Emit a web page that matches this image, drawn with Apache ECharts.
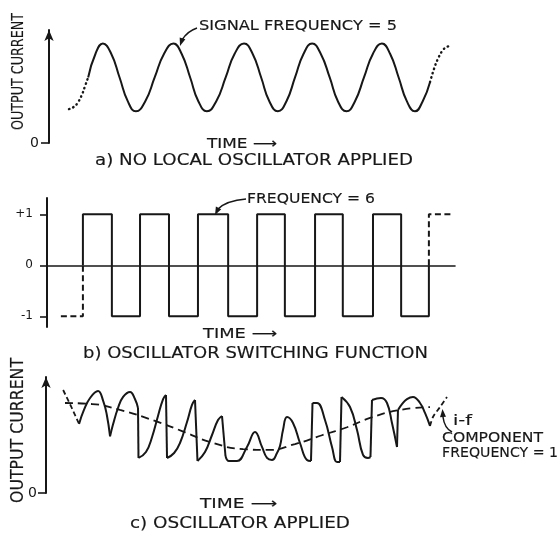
<!DOCTYPE html>
<html>
<head>
<meta charset="utf-8">
<script src="https://cdn.jsdelivr.net/npm/echarts@6/dist/echarts.min.js"></script>
<style>
html,body{margin:0;padding:0;background:#fff}
#chart{width:559px;height:534px}
</style>
</head>
<body>
<div id="chart"></div>
<script>
// ---------- a) output current with no local oscillator: [time, current] ----------
const signalLead  = [[4.9,3.0],[6.1,3.2],[7.1,3.6],[8.1,4.3],[8.8,5.0],[9.6,5.8]];
const signalTrace = [[9.6,5.8],[11.4,7.9],[13.2,8.8],[15.25,7.9],[17.3,5.8],[19.3,3.7],[21.3,2.8],
  [23.6,3.7],[25.9,5.8],[28.2,7.9],[30.5,8.8],[32.5,7.9],[34.6,5.8],[36.6,3.7],[38.7,2.8],
  [41.0,3.7],[43.3,5.8],[45.5,7.9],[47.8,8.8],[49.9,7.9],[52.0,5.8],[54.0,3.7],[56.1,2.8],
  [58.2,3.7],[60.3,5.8],[62.4,7.9],[64.5,8.8],[66.6,7.9],[68.8,5.8],[70.8,3.7],[72.9,2.8],
  [75.0,3.7],[77.2,5.8],[79.4,7.9],[81.6,8.8],[83.6,7.9],[85.7,5.8],[87.7,3.7],[89.7,2.8],
  [91.6,3.7],[93.4,5.4]];
const signalTail  = [[93.4,5.4],[94.4,6.6],[95.4,7.5],[96.5,8.2],[97.5,8.5],[98.5,8.6]];

// ---------- b) oscillator switching function ----------
const switchEdges = [8.8,15.9,22.8,29.9,37.0,44.4,51.5,58.3,65.7,72.5,79.9,86.8,93.6];
const switchLeadStart = 3.4;
const switchTailEnd = 99.3;
const switchTicks = [-1, 0, 1];

// ---------- c) output current with oscillator applied ----------
const outputLead = [[4.2,8.88],[6.1,7.50],[8.1,5.95]];
const outputArcs = [
  [[8.1,5.95],[9.3,7.16],[10.8,8.19],[12.75,8.79],[14.05,7.90],[14.9,6.75],[15.7,4.89]],
  [[15.7,4.89],[16.42,5.90],[17.65,7.33],[18.9,8.28],[20.6,8.71],[21.8,8.10],[22.55,7.33]],
  [[22.67,3.02],[24.5,3.53],[26.0,4.83],[27.45,6.64],[28.7,8.10],[29.41,8.45]],
  [[29.66,3.02],[31.4,3.45],[32.84,4.31],[34.56,6.12],[35.78,7.59],[36.52,8.02]],
  [[37.13,2.76],[38.97,3.53],[40.69,5.00],[42.16,6.29],[43.14,6.64]],
  [[43.99,3.19],[44.85,2.76],[46.81,2.76],[49.26,3.97],[51.23,5.26],[52.94,3.97],[54.17,3.02],
   [55.39,2.84],[56.62,3.45],[57.35,4.05],[58.09,5.43],[59.07,6.55],[60.54,6.03],[62.25,4.31],
   [63.97,2.84],[64.95,2.76]],
  [[65.32,7.76],[66.42,7.76],[68.38,6.29],[70.10,3.97],[71.32,2.67],[72.06,2.67]],
  [[72.43,8.28],[74.51,7.41],[76.23,5.43],[77.70,3.28],[78.92,3.02],[79.53,3.10]],
  [[79.90,8.02],[82.11,8.19],[83.58,7.76],[84.80,6.03],[86.03,3.97]],
  [[86.27,7.16],[87.25,7.67],[88.48,8.10],[89.95,8.28],[91.67,7.76],[92.89,6.90],[94.12,5.78]]
];
const outputTail = [[94.12,5.78],[94.85,6.55],[96.57,7.41],[98.28,8.28]];
// i-f component (beat frequency 1)
const ifComponent = [[4.66,7.76],[11.27,7.67],[18.14,7.16],[26.72,6.21],[33.33,5.34],[40.93,4.31],
  [48.28,3.79],[54.41,3.71],[61.03,4.22],[67.65,4.98],[73.77,5.67],[79.41,6.47],[86.76,7.16],[94.12,7.41]];

const INK = '#171717';
const FONT = '"DejaVu Sans"';

const chart = echarts.init(document.getElementById('chart'), null, {renderer: 'canvas'});

function line(idx, data, style, smooth) {
  return {
    type: 'line', xAxisIndex: idx, yAxisIndex: idx, data: data,
    symbol: 'none', showSymbol: false, silent: true, animation: false,
    smooth: smooth === undefined ? 0.5 : smooth,
    lineStyle: Object.assign({color: INK, width: 2}, style)
  };
}
const DOTTED = {type: [0.5, 4], cap: 'round', width: 2.4};
const DASHED = {type: [6, 3.5], width: 2};

// switching waveform from the edge times
const sw = [[switchEdges[0], 0], [switchEdges[0], 1]];
let level = 1;
for (let i = 1; i < switchEdges.length - 1; i++) {
  sw.push([switchEdges[i], level]);
  level = -level;
  sw.push([switchEdges[i], level]);
}
const lastEdge = switchEdges[switchEdges.length - 1];
sw.push([lastEdge, level], [lastEdge, 0]);
const swLead = [[switchLeadStart, -1], [switchEdges[0], -1], [switchEdges[0], 0]];
const swTail = [[lastEdge, 0], [lastEdge, 1], [switchTailEnd, 1]];

const series = [
  line(0, signalLead, DOTTED),
  line(0, signalTrace, {}),
  line(0, signalTail, DOTTED),
  line(1, swLead, DASHED, false),
  line(1, sw, {}, false),
  line(1, swTail, DASHED, false),
  line(2, outputLead, {type: [5, 3], width: 1.8}, false),
  line(2, outputTail, {type: [5, 3], width: 1.8}, 0.3),
  line(2, ifComponent, {type: [8, 5], width: 1.8}, 0.5)
];
outputArcs.forEach(function (arc, i) {
  series.push(line(2, arc, {}, 0.45));
  const next = outputArcs[i + 1];
  if (next) {
    const a = arc[arc.length - 1], b = next[0];
    if (a[0] !== b[0] || a[1] !== b[1]) series.push(line(2, [a, b], {}, false));
  }
});

function valueAxis(idx, show) {
  return {type: 'value', gridIndex: idx, min: 0, max: 100, show: show,
    axisLine: {show: show, lineStyle: {color: INK, width: 1.6}},
    axisTick: {show: false}, axisLabel: {show: false}, splitLine: {show: false}};
}
function currentAxis(idx, margin) {
  return {type: 'value', gridIndex: idx, min: 0, max: 10,
    axisLine: {show: true, symbol: ['none', 'arrow'], symbolSize: [7, 11],
      lineStyle: {color: INK, width: 2}},
    axisTick: {show: true, length: 8, customValues: [0], lineStyle: {color: INK, width: 1.6}},
    axisLabel: {show: true, customValues: [0], margin: margin, color: INK,
      fontFamily: FONT, fontSize: 14},
    splitLine: {show: false}};
}

// text helpers: stretch each caption to its lettering width
const measure = document.createElement('canvas').getContext('2d');
function caption(text, x, y, size, width, opt) {
  opt = opt || {};
  measure.font = size + 'px ' + FONT;
  const natural = measure.measureText(text).width;
  const align = opt.align || 'left';
  return {
    type: 'text', x: x, y: y, rotation: opt.rotation || 0,
    scaleX: width / natural, silent: true,
    style: {text: text, font: size + 'px ' + FONT, fill: INK, stroke: INK, lineWidth: 0.15,
      align: align, verticalAlign: 'middle', textAlign: align, textVerticalAlign: 'middle'}
  };
}
function leader(p0, c1, c2, p1, tip) {
  const dx = tip[0] - p1[0], dy = tip[1] - p1[1];
  const n = Math.hypot(dx, dy), ux = dx / n, uy = dy / n;
  const len = 8, half = 3;
  const bx = tip[0] - ux * len, by = tip[1] - uy * len;
  return [
    {type: 'bezierCurve', silent: true,
      shape: {x1: p0[0], y1: p0[1], cpx1: c1[0], cpy1: c1[1], cpx2: c2[0], cpy2: c2[1], x2: p1[0], y2: p1[1]},
      style: {stroke: INK, lineWidth: 1.5, fill: null}},
    {type: 'polygon', silent: true,
      shape: {points: [tip, [bx - uy * half, by + ux * half], [bx + uy * half, by - ux * half]]},
      style: {fill: INK}}
  ];
}

const graphics = [
  caption('OUTPUT CURRENT', 19, 71.5, 15, 117, {align: 'center', rotation: Math.PI / 2}),
  caption('OUTPUT CURRENT', 18.5, 430.5, 17, 145, {align: 'center', rotation: Math.PI / 2}),
  caption('SIGNAL FREQUENCY = 5', 199, 26.5, 14, 198),
  caption('TIME \u27F6', 207, 144, 14, 70),
  caption('a) NO LOCAL OSCILLATOR APPLIED', 95, 161, 15, 318),
  caption('FREQUENCY = 6', 247, 199, 14, 128),
  caption('TIME \u27F6', 203, 334, 14, 74),
  caption('b) OSCILLATOR SWITCHING FUNCTION', 83, 354, 15, 345),
  caption('TIME \u27F6', 200, 504, 14, 77),
  caption('c) OSCILLATOR APPLIED', 130, 524, 15, 220),
  caption('i-f', 453, 421, 14, 19),
  caption('COMPONENT', 442, 438, 14, 101),
  caption('FREQUENCY = 1', 442, 453, 14, 116)
].concat(
  leader([197, 28], [191, 30], [185, 35], [182, 40], [180, 46]),
  leader([246, 199], [234, 200], [223, 204], [218, 209], [215, 215]),
  leader([452, 432], [448, 430], [444, 425], [443, 417], [442.5, 409])
);

chart.setOption({
  animation: false,
  backgroundColor: '#ffffff',
  textStyle: {fontFamily: FONT, color: INK},
  grid: [
    {left: 49, top: 30, width: 408, height: 113, outerBoundsMode: 'none'},
    {left: 47, top: 198, width: 408, height: 129, outerBoundsMode: 'none'},
    {left: 46, top: 377, width: 408, height: 116, outerBoundsMode: 'none'}
  ],
  xAxis: [valueAxis(0, false), valueAxis(1, true), valueAxis(2, false)],
  yAxis: [
    currentAxis(0, 10),
    {type: 'value', gridIndex: 1, min: -1.21, max: 1.32,
      axisLine: {show: true, onZero: false, lineStyle: {color: INK, width: 2}},
      axisTick: {show: true, length: 7, customValues: switchTicks, lineStyle: {color: INK, width: 1.6}},
      axisLabel: {show: true, customValues: switchTicks, margin: 14, color: INK,
        fontFamily: FONT, fontSize: 12,
        formatter: function (v) { return v > 0 ? '+' + v : String(v); }},
      splitLine: {show: false}},
    currentAxis(2, 9)
  ],
  series: series,
  graphic: {elements: graphics}
});
</script>
</body>
</html>
